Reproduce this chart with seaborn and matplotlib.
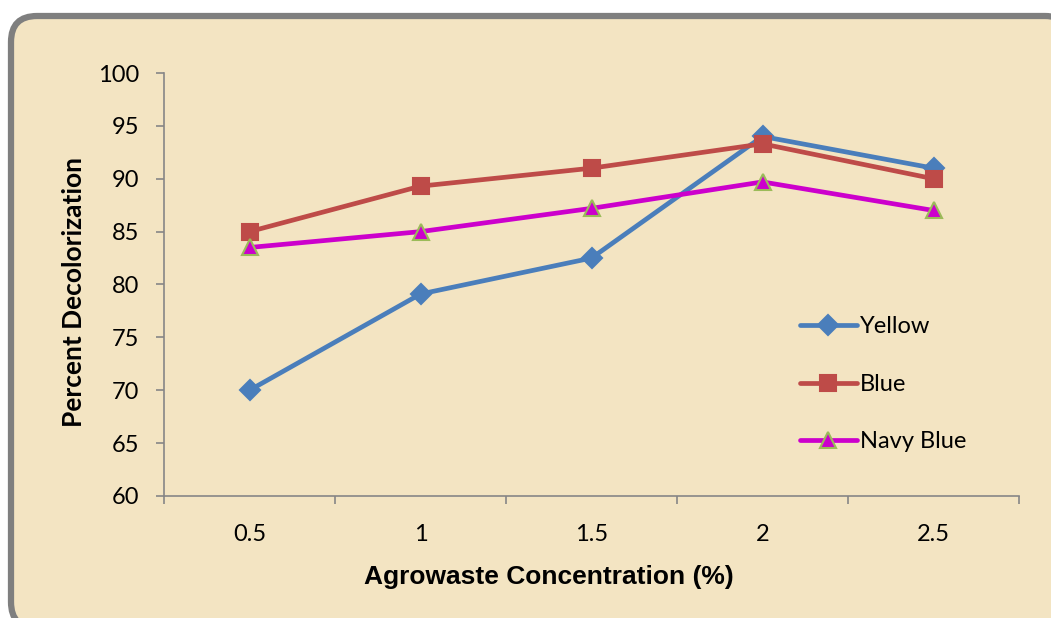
import matplotlib
matplotlib.use("Agg")
import matplotlib.pyplot as plt
import seaborn as sns
import pandas as pd
from matplotlib.patches import FancyBboxPatch
from matplotlib.transforms import IdentityTransform
from matplotlib.ticker import FixedLocator

concentrations = ["0.5", "1", "1.5", "2", "2.5"]
yellow = [70.0, 79.1, 82.5, 94.0, 91.0]
blue = [85.0, 89.3, 91.0, 93.3, 90.0]
navy_blue = [83.5, 85.0, 87.2, 89.7, 87.0]
series_names = ["Yellow", "Blue", "Navy Blue"]
y_ticks = [60, 65, 70, 75, 80, 85, 90, 95, 100]

sns.set_theme(style="white")
plt.rcParams["font.family"] = ["Lato", "DejaVu Sans"]
plt.rcParams["text.color"] = "black"
plt.rcParams["axes.labelcolor"] = "black"
plt.rcParams["xtick.color"] = "black"
plt.rcParams["ytick.color"] = "black"

fig = plt.figure(figsize=(10.51, 6.18), dpi=100, facecolor="white")

# parchment panel with gray rounded border (pixel coords)
panel = FancyBboxPatch((11, -10), 1060, 612,
                       boxstyle="round,pad=0,rounding_size=26",
                       transform=IdentityTransform(),
                       facecolor="#F3E4C2", edgecolor="#7F7F7F",
                       linewidth=4.5, zorder=0)
fig.add_artist(panel)

ax = fig.add_axes([164 / 1051, 1 - 496 / 618, (1019 - 164) / 1051, (496 - 73) / 618])
ax.set_facecolor("none")

styles = {
    "Yellow": dict(color="#4A7EBB", marker="D", markersize=10, mec="#4A7EBB", mfc="#4A7EBB"),
    "Blue": dict(color="#BE4B48", marker="s", markersize=12, mec="#BE4B48", mfc="#BE4B48"),
    "Navy Blue": dict(color="#CC00CC", marker="^", markersize=12, mec="#9BBB59", mfc="#CC00CC"),
}
values = {"Yellow": yellow, "Blue": blue, "Navy Blue": navy_blue}

for name in series_names:
    df = pd.DataFrame({"conc": concentrations, "pct": values[name]})
    st = styles[name]
    sns.lineplot(data=df, x="conc", y="pct", ax=ax, color=st["color"],
                 linewidth=3.4, marker=st["marker"], markersize=st["markersize"],
                 markeredgecolor=st["mec"], markerfacecolor=st["mfc"],
                 markeredgewidth=1.5, label=name, sort=False)

ax.set_ylim(60, 100)
ax.set_yticks(y_ticks)
ax.set_xlim(-0.5, len(concentrations) - 0.5)
ax.set_xticks(range(len(concentrations)))
ax.set_xticklabels(concentrations)
ax.xaxis.set_minor_locator(FixedLocator([i - 0.5 for i in range(len(concentrations) + 1)]))

for side in ["top", "right"]:
    ax.spines[side].set_visible(False)
for side in ["left", "bottom"]:
    ax.spines[side].set_color("#868686")
    ax.spines[side].set_linewidth(1.2)

ax.tick_params(axis="x", which="major", length=0, pad=20, labelsize=17, labelcolor="black")
ax.tick_params(axis="x", which="minor", length=6, width=1.2, color="#868686", direction="out", bottom=True)
ax.tick_params(axis="y", which="major", length=6, width=1.2, color="#868686", direction="out",
               left=True, pad=12, labelsize=17, labelcolor="black")

ax.set_xlabel("Agrowaste Concentration (%)", fontsize=19, fontweight="bold",
              family=["Liberation Sans", "DejaVu Sans"], color="black")
ax.set_ylabel("Percent Decolorization", fontsize=19, fontweight="bold",
              family=["Lato", "DejaVu Sans"], color="black")
ax.xaxis.set_label_coords(0.450, -0.163)
ax.yaxis.set_label_coords(-0.091, 0.482)
ax.grid(False)

leg = ax.legend(loc="center left", bbox_to_anchor=(0.719, 0.264), frameon=False,
                fontsize=17, handlelength=2.4, handletextpad=0.15, labelspacing=1.55)
for t in leg.get_texts():
    t.set_color("black")

fig.savefig("out.png", dpi=100, facecolor="white")
